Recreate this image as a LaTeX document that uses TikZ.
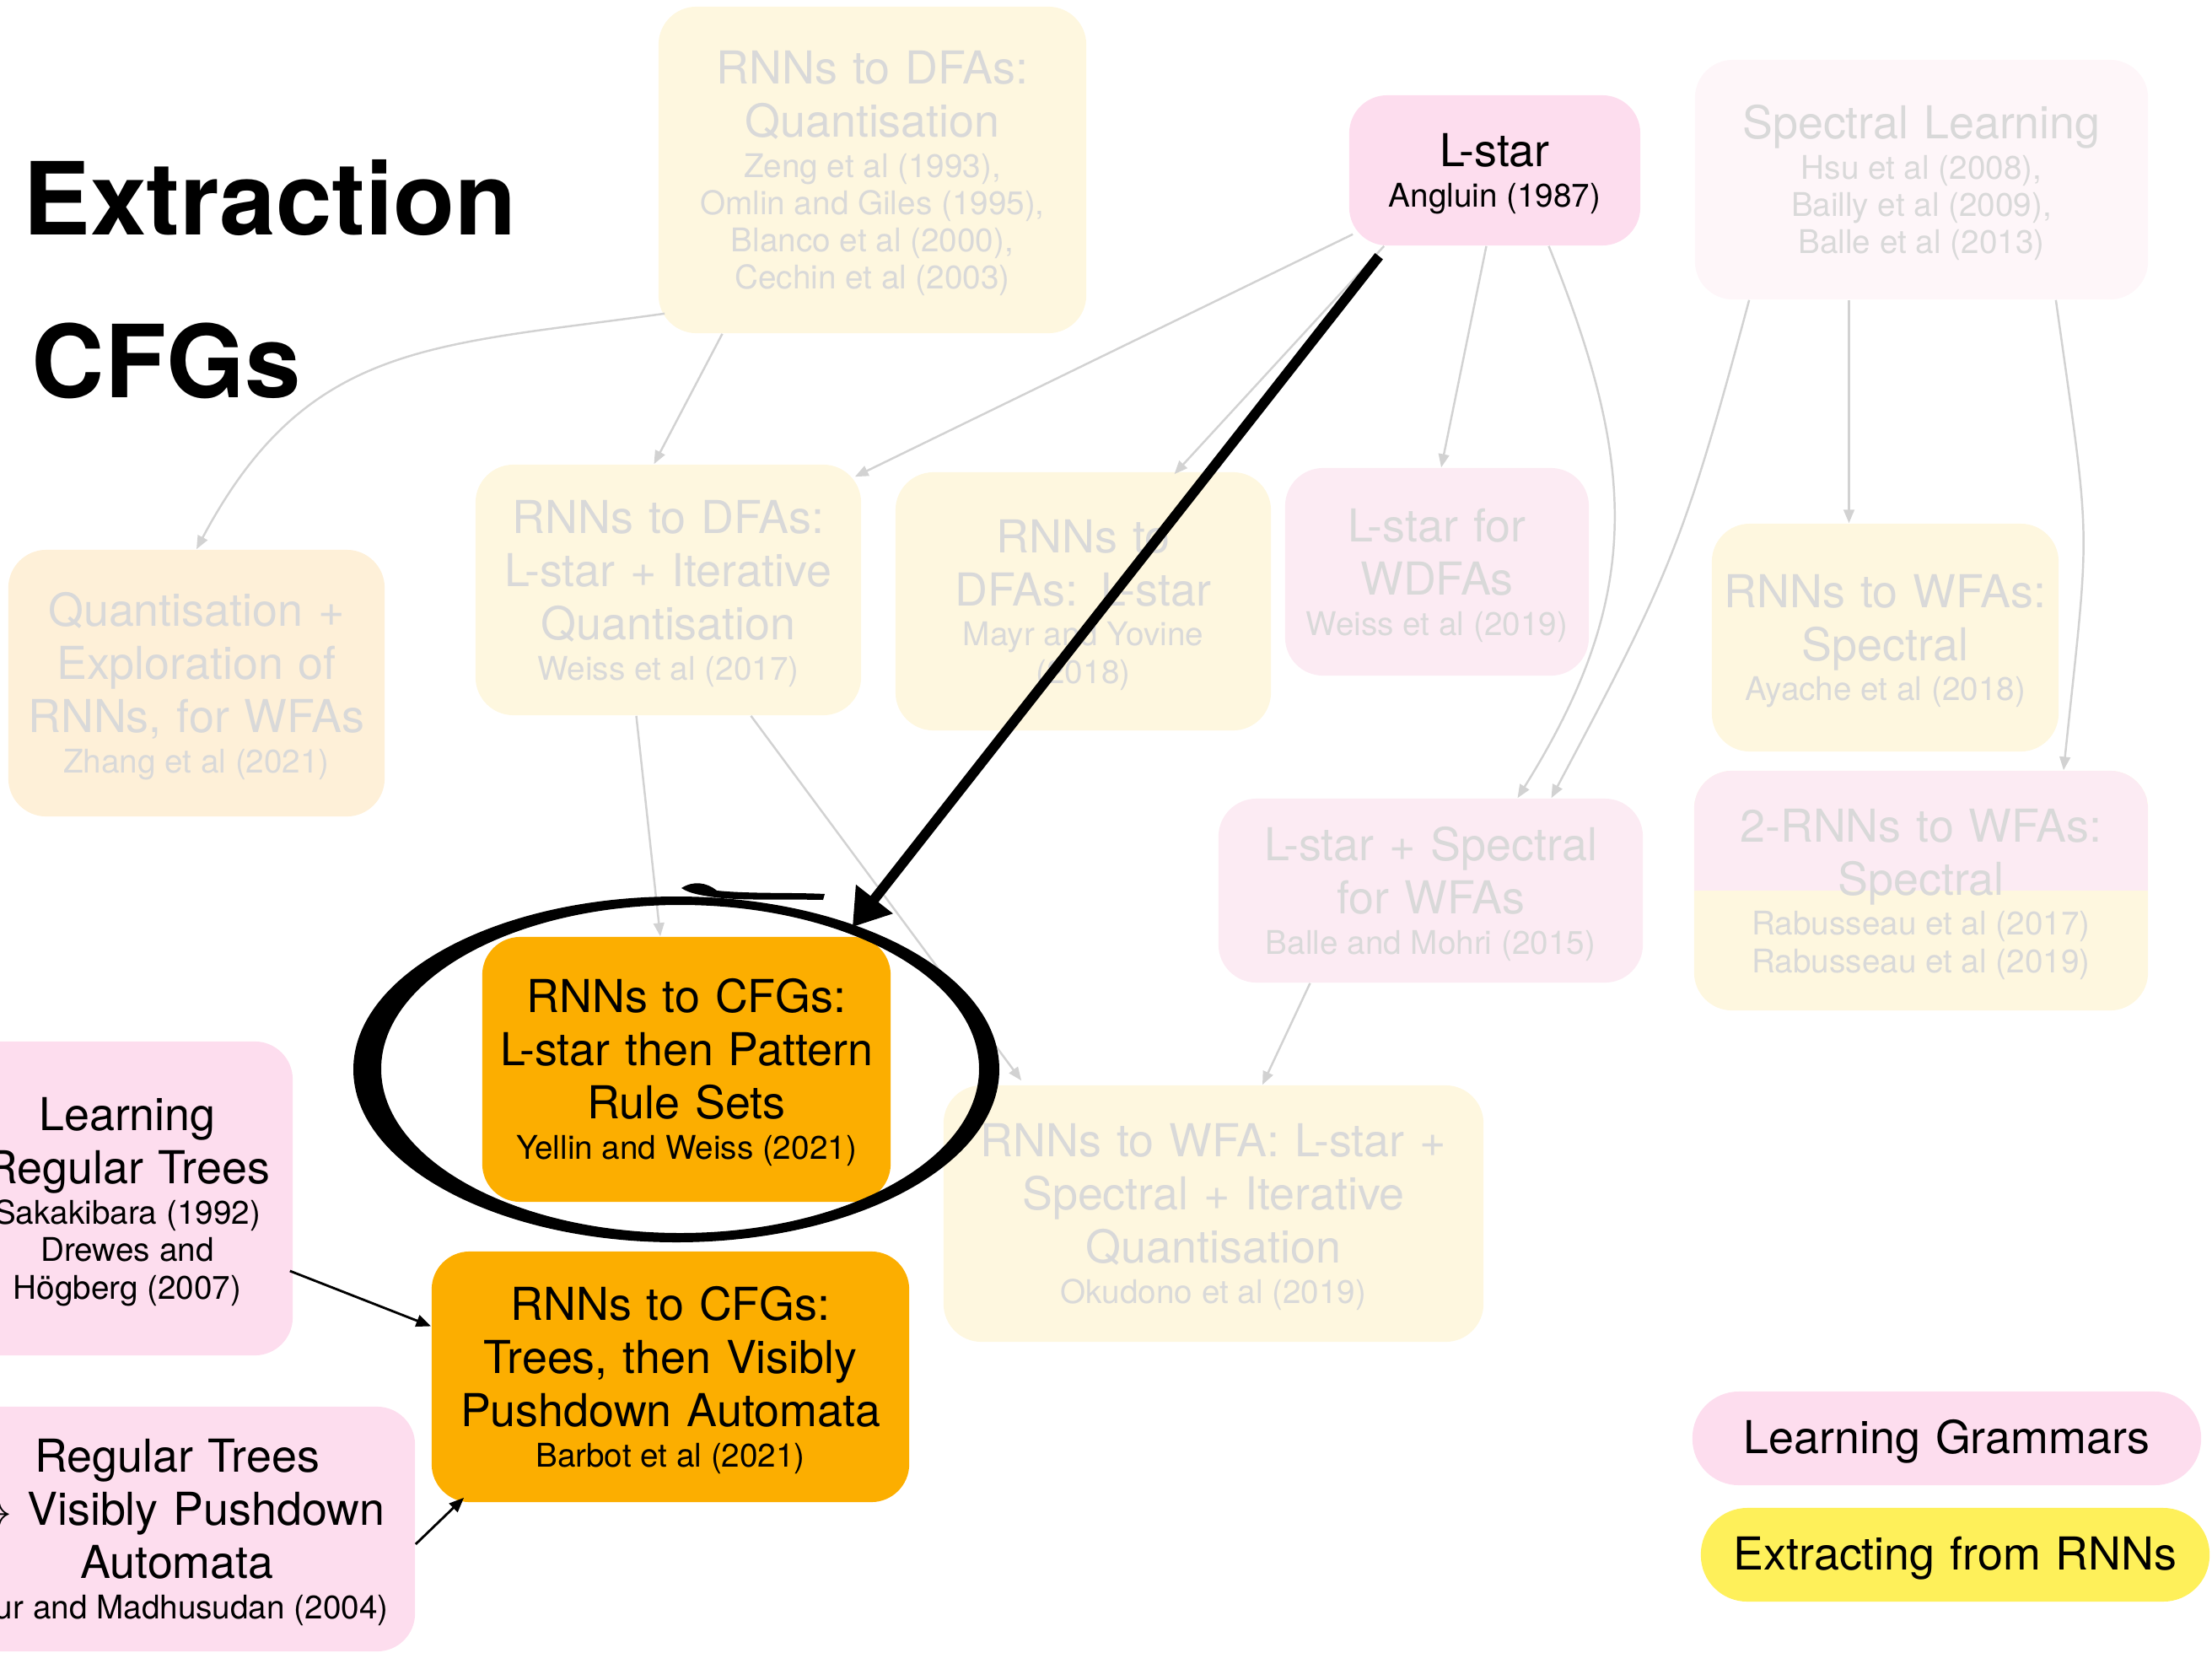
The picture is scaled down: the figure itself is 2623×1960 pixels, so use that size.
\documentclass[tikz,border=0pt]{standalone}
\usepackage{fontspec}
\setmainfont{TeX Gyre Heros}
\usepackage{tikz}
\usetikzlibrary{arrows.meta,calc}
\definecolor{gramPink}{HTML}{FDDDEE}
\definecolor{gramBlush}{HTML}{FCEBF3}
\definecolor{gramMist}{HTML}{FEF6F9}
\definecolor{rnnCream}{HTML}{FEF7DF}
\definecolor{rnnPeach}{HTML}{FEF0D8}
\definecolor{rnnAmber}{HTML}{FCAE00}
\definecolor{rnnLemon}{HTML}{FEF05A}
\definecolor{fadeGrey}{HTML}{D9D9D9}
\definecolor{edgeGrey}{HTML}{D2D2D2}
\newcommand{\refline}[1]{\par\vspace{1pt}{\fontsize{11}{12.6}\selectfont
  \spaceskip=\fontdimen2\font\xspaceskip=\fontdimen2\font #1\par}}

\begin{document}
\begin{tikzpicture}[x=0.01cm,y=-0.01cm,font={\fontsize{15.3}{17.9}\selectfont},
  card/.style 2 args={rounded corners=0.45cm,inner sep=0pt,align=center,
                      text width=#1cm,minimum height=#2cm,
                      execute at begin node={\rule{0pt}{13.5pt}}},
  faded/.style={text=fadeGrey},
  link/.style={draw=edgeGrey,line width=0.7pt,-{Triangle[length=4.5pt,width=3.6pt]}},
  feed/.style={draw=black,line width=0.8pt,-{Triangle[length=5pt,width=4pt]}}]
  \useasboundingbox (0,0) rectangle (2623,1960);

  \node[anchor=base west,inner sep=0pt,font={\fontsize{34}{40}\selectfont\bfseries}]
    (ttlA) at (27,278) {Extraction};
  \node[anchor=base west,inner sep=0pt,font={\fontsize{34}{40}\selectfont\bfseries}]
    (ttlB) at (37,471) {CFGs};

  % faded background of related work
  \node[card={5.07}{3.87},fill=rnnCream,faded] (q1) at (1034.5,201.5)
    {RNNs to DFAs:\\ Quantisation\refline{Zeng et al (1993),\\ Omlin and Giles (1995),\\
     Blanco et al (2000),\\ Cechin et al (2003)}};
  \node[card={3.45}{1.78},fill=gramPink] (lstar) at (1772.5,202)
    {L-star\refline{Angluin (1987)}};
  \node[card={5.37}{2.84},fill=gramMist,faded] (spec) at (2278.5,213)
    {Spectral Learning\refline{Hsu et al (2008),\\ Bailly et al (2009),\\ Balle et al (2013)}};
  \node[card={4.46}{3.16},fill=rnnPeach,faded] (zhang) at (233,810)
    {Quantisation +\\ Exploration of\\ RNNs, for WFAs\refline{Zhang et al (2021)}};
  \node[card={4.57}{2.97},fill=rnnCream,faded] (weiss17) at (792.5,699.5)
    {RNNs to DFAs:\\ L-star + Iterative\\ Quantisation\refline{Weiss et al (2017)}};
  \node[card={4.45}{3.06},fill=rnnCream,faded] (mayr) at (1284.5,713)
    {RNNs to\\ DFAs: L-star\refline{Mayr and Yovine\\ (2018)}};
  \node[card={3.60}{2.46},fill=gramBlush,faded] (wdfa) at (1704,678)
    {L-star for\\ WDFAs\refline{Weiss et al (2019)}};
  \node[card={4.11}{2.70},fill=rnnCream,faded] (ayache) at (2235.5,756)
    {RNNs to WFAs:\\ Spectral\refline{Ayache et al (2018)}};
  \node[card={5.03}{2.18},fill=gramBlush,faded] (balle) at (1696.5,1056)
    {L-star + Spectral\\ for WFAs\refline{Balle and Mohri (2015)}};
  \node[card={5.38}{2.84},fill=rnnCream,faded,
        path picture={\fill[gramBlush,sharp corners] (path picture bounding box.north west)
                      rectangle (path picture bounding box.east);}] (rabu) at (2278,1056)
    {2-RNNs to WFAs:\\ Spectral\refline{Rabusseau et al (2017)\\ Rabusseau et al (2019)}};
  \node[card={6.40}{3.04},fill=rnnCream,faded] (okud) at (1439,1439)
    {RNNs to WFA: L-star +\\ Spectral + Iterative\\ Quantisation\refline{Okudono et al (2019)}};

  % the two CFG extractions and their sources
  \node[card={4.84}{3.14},fill=rnnAmber] (cfgA) at (814,1268)
    {RNNs to CFGs:\\ L-star then Pattern\\ Rule Sets\refline{Yellin and Weiss (2021)}};
  \node[card={5.66}{2.97},fill=rnnAmber] (cfgB) at (795,1632.5)
    {RNNs to CFGs:\\ Trees, then Visibly\\ Pushdown Automata\refline{Barbot et al (2021)}};
  \node[card={3.92}{3.72},fill=gramPink] (trees) at (151,1421)
    {Learning\\ Regular Trees\refline{Sakakibara (1992)\\ Drewes and\\ Högberg (2007)}};
  \node[card={5.64}{2.90},fill=gramPink] (vpa) at (210,1813)
    {Regular Trees\\ $\rightarrow$ Visibly Pushdown\\ Automata\refline{Alur and Madhusudan (2004)}};

  % legend
  \node[card={6.03}{1.11},rounded corners=0.55cm,fill=gramPink] (keyA) at (2308.5,1705.5)
    {Learning Grammars};
  \node[card={6.03}{1.11},rounded corners=0.55cm,fill=rnnLemon] (keyB) at (2318.5,1843.5)
    {Extracting from RNNs};

  \draw[link] ($(q1.south west)+(8,-24)$) to[out=188,in=62,looseness=1.15] (zhang.north);
  \draw[link] ($(q1.south)+(-178,0)$) -- ($(weiss17.north)+(-17,0)$);
  \draw[link] ($(lstar.south west)+(5,-14)$) -- ($(weiss17.north east)+(-8,15)$);
  \draw[link] ($(lstar.south west)+(42,0)$) -- ($(mayr.north)+(108,3)$);
  \draw[link] ($(lstar.south)+(-10,0)$) -- ($(wdfa.north)+(5,0)$);
  \draw[link] ($(lstar.south)+(64,0)$) to[out=-68,in=58,looseness=1.1] ($(balle.north)+(103,0)$);
  \draw[link] ($(spec.south west)+(65,0)$) to[out=-105,in=62,looseness=1.2] ($(balle.north)+(143,0)$);
  \draw[link] ($(spec.south)+(-86,0)$) -- ($(ayache.north)+(-43,0)$);
  \draw[link] ($(spec.south east)+(-110,0)$) to[out=-82,in=84,looseness=1.4] ($(rabu.north)+(169,0)$);
  \draw[link] ($(weiss17.south)+(-38,0)$) -- ($(cfgA.north)+(-31,0)$);
  \draw[link] ($(weiss17.south)+(98,0)$) -- ($(okud.north west)+(93,-5)$);
  \draw[link] ($(balle.south)+(-143,0)$) -- ($(okud.north)+(58,0)$);

  \draw[feed] ($(trees.east)+(-4,86)$) -- ($(cfgB.west)+(0,-60)$);
  \draw[feed] ($(vpa.east)+(0,18)$) -- ($(cfgB.south west)+(39,-6)$);

  % hand-drawn emphasis on L-star then pattern rules
  \draw[line width=3.4pt,-{Triangle[length=12pt,width=15pt]}]
    ($(lstar.south west)+(36,12)$) -- ($(cfgA.north east)+(-46,-11)$);
  \fill[even odd rule] (802,1268) ellipse [x radius=383,y radius=205]
                       (806.5,1267.5) ellipse [x radius=354.5,y radius=194.5];
  \fill (808,1053) .. controls (822,1044) and (838,1046) .. (850,1056)
        .. controls (890,1060) and (940,1058) .. (978,1060) -- (976,1067)
        .. controls (930,1066) and (880,1068) .. (848,1064)
        .. controls (835,1062) and (818,1060) .. (808,1053) -- cycle;
\end{tikzpicture}
\end{document}
